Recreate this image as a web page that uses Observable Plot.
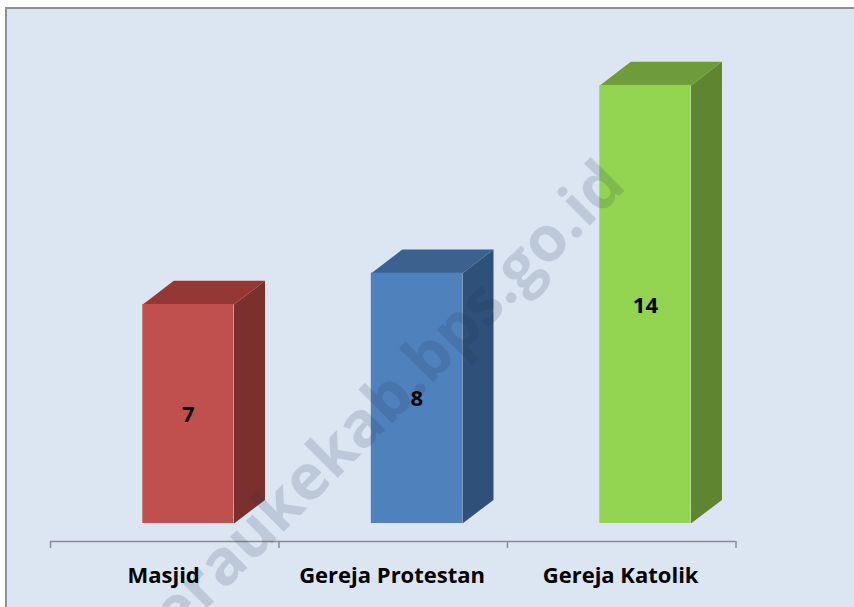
<!DOCTYPE html>
<html>
<head>
<meta charset="utf-8">
<script src="https://cdn.jsdelivr.net/npm/d3@7"></script>
<script src="https://cdn.jsdelivr.net/npm/@observablehq/plot@0.6"></script>
<style>
html,body{margin:0;padding:0;background:#fff;overflow:hidden}
#panel{position:absolute;left:5px;top:7px;right:0;bottom:0;background:#DCE6F2;border-left:2px solid #8f8f8f;border-top:2px solid #8f8f8f}
#chart{position:absolute;left:0;top:0;width:854px;height:607px}
#chart svg{background:transparent;display:block}
</style>
</head>
<body>
<div id="panel"></div>
<div id="chart"></div>
<script>
const categories = ["Masjid", "Gereja Protestan", "Gereja Katolik"];
const values = [7, 8, 14];
const frontColors = ["#C0504D", "#4F81BD", "#92D350"];
const sideColors = ["#7B302E", "#2F5078", "#5F8531"];
const topColors = ["#943836", "#3B618F", "#6F9C3B"];
const watermark = "meraukekab.bps.go.id";

const slot = 228.5;            // pixels per category
const unit = 31.29;            // pixels per value unit
const barStart = 0.404, barWidth = 0.399;
const depthX = 31 / slot, depthY = 23.6 / unit;
const axisY = -18 / unit;
const font = "'Open Sans', sans-serif";

const rows = categories.map((name, i) => ({name, i, value: values[i]}));
const faces = rows.flatMap(({i, value}) => {
  const a = i + barStart, b = a + barWidth;
  return [
    {id: "side" + i, fill: sideColors[i], pts: [[b, 0], [b + depthX, depthY], [b + depthX, value + depthY], [b, value]]},
    {id: "top" + i, fill: topColors[i], pts: [[a, value], [a + depthX, value + depthY], [b + depthX, value + depthY], [b, value]]}
  ];
});

const chart = Plot.plot({
  width: 854, height: 607,
  marginTop: 0, marginRight: 0, marginLeft: 0, marginBottom: 66,
  style: {background: "transparent", fontFamily: font},
  x: {type: "linear", domain: [0, 3], range: [50, 735.5], axis: null},
  y: {type: "linear", domain: [axisY, 523 / unit], range: [541, 0], axis: null},
  marks: [
    ...faces.map(f => Plot.line(f.pts, {x: d => d[0], y: d => d[1], fill: f.fill, stroke: "none"})),
    ...rows.map(r => Plot.rect([r], {
      x1: d => d.i + barStart, x2: d => d.i + barStart + barWidth,
      y1: 0, y2: d => d.value, fill: frontColors[r.i], inset: 0
    })),
    Plot.ruleY([axisY], {x1: 0, x2: 3, stroke: "#8c8c8c", strokeWidth: 1.5}),
    Plot.axisX({ticks: [0, 1, 2, 3], tickSize: 7, tickFormat: () => "", stroke: "#8c8c8c", strokeWidth: 1.5, anchor: "bottom"}),
    Plot.text([watermark], {
      x: 2.465, y: 11.2, text: d => d, rotate: -45, textAnchor: "end",
      fontSize: 63, fontWeight: 700, fontFamily: "'Open Sans', sans-serif", fill: "#1c3050", fillOpacity: 0.16
    }),
    Plot.text(rows, {
      x: d => d.i + barStart + barWidth / 2, y: d => d.value / 2, text: d => String(d.value),
      fontSize: 22, fontWeight: 700, fontFamily: font, fill: "#000", dy: 1
    }),
    Plot.text(rows, {
      x: d => d.i + 0.495, y: axisY, text: "name",
      fontSize: 22, fontWeight: 700, fontFamily: font, fill: "#000", dy: 34
    })
  ]
});
document.getElementById("chart").append(chart);
</script>
</body>
</html>
